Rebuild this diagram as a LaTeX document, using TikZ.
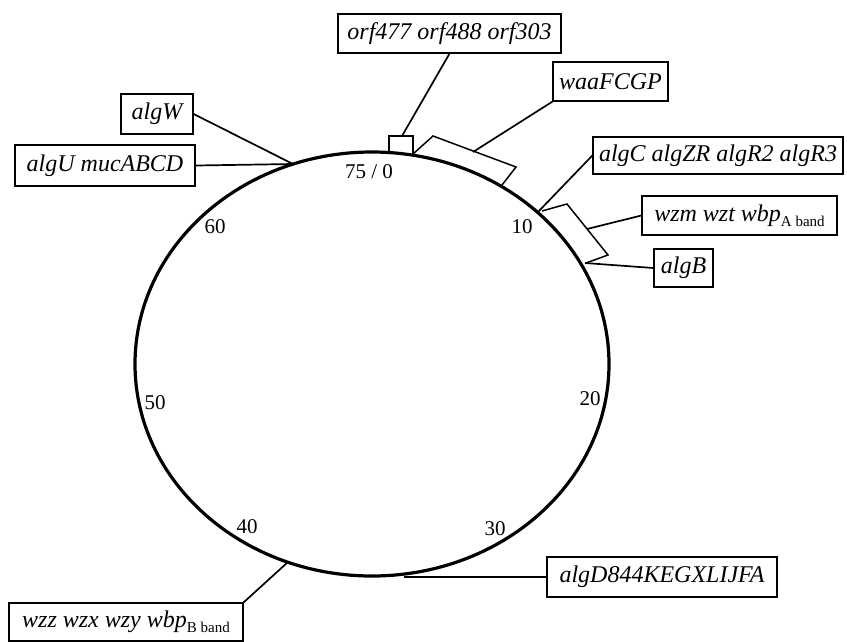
\documentclass[tikz,border=0pt]{standalone}
\usepackage{fontspec}
\setmainfont{Liberation Serif}
\begin{document}
\begin{tikzpicture}[x=1pt,y=-1pt,
  genebox/.style={draw, line width=1.3pt, font=\fontsize{24}{26}\selectfont\itshape, inner sep=0pt, minimum height=39pt},
  conn/.style={line width=1.7pt},
  block/.style={line width=1.5pt, line join=miter},
  posnum/.style={font=\fontsize{21}{23}\selectfont, inner sep=0pt, anchor=base}]
\useasboundingbox (0,0) rectangle (847,641);
\coordinate (C) at (372,364);
\draw[line width=3.2pt] (C) ellipse [x radius=237pt, y radius=212pt];

% gene boxes
\node[genebox, minimum width=223pt] (orf) at (449.5,33.5) {orf477 orf488 orf303};
\node[genebox, minimum width=115pt] (waa) at (610.5,81.5) {waaFCGP};
\node[genebox, minimum width=250pt, minimum height=37pt] (algC) at (718,155.5) {algC algZR algR2 algR3};
\node[genebox, minimum width=195pt] (wzm) at (739.5,215.5) {wzm wzt wbp\raisebox{-5pt}{\upshape\fontsize{15}{15}\selectfont A band}};
\node[genebox, minimum width=59pt, minimum height=38pt] (algB) at (683.5,268) {algB};
\node[genebox, minimum width=72pt, minimum height=40pt] (algW) at (157,114) {algW};
\node[genebox, minimum width=180pt, minimum height=41pt] (algU) at (105,165.5) {algU mucABCD};
\node[genebox, minimum width=234pt, minimum height=38pt] (wzz) at (126,622) {wzz wzx wzy wbp\raisebox{-5pt}{\upshape\fontsize{15}{15}\selectfont B band}};
\node[genebox, minimum width=230pt, minimum height=40pt] (algD) at (662,577) {algD844KEGXLIJFA};

% blocks on the map
\draw[block] (389,153) -- (389,136) -- (413,136) -- (413,154);
\draw[block] (413,154) -- (433,136) -- (516,167) -- (502,185);
\draw[block] (542,211) -- (567,204) -- (608,255) -- (586,263);

% attachment points
\coordinate (pOrf) at (402,136);
\coordinate (pWaa) at (473,152);
\coordinate (pAlgC) at (538,212);
\coordinate (pWzm) at (587,229);
\coordinate (pAlgB) at (585,263);
\coordinate (pLeft) at (293,164);
\coordinate (pWzz) at (288,562);
\coordinate (pAlgD) at (404,577);

% connectors
\draw[conn] (orf.south) -- (pOrf);
\draw[conn] (pWaa) -- (waa.south west);
\draw[conn] (pAlgC) -- (algC.west);
\draw[conn] (pWzm) -- (wzm.west);
\draw[conn] (pAlgB) -- (algB.west);
\draw[conn] (algW.east) -- (pLeft);
\draw[conn] (algU.east) -- (pLeft);
\draw[conn] (wzz.north east) -- (pWzz);
\draw[conn] (pAlgD) -- (algD.west);

% map positions
\node[posnum] (n0) at (369,178) {75 / 0};
\node[posnum] (n10) at (522,233) {10};
\node[posnum] (n20) at (590,405) {20};
\node[posnum] (n30) at (495,535) {30};
\node[posnum] (n40) at (247,533) {40};
\node[posnum] (n50) at (155,409) {50};
\node[posnum] (n60) at (215,233) {60};
\end{tikzpicture}
\end{document}
